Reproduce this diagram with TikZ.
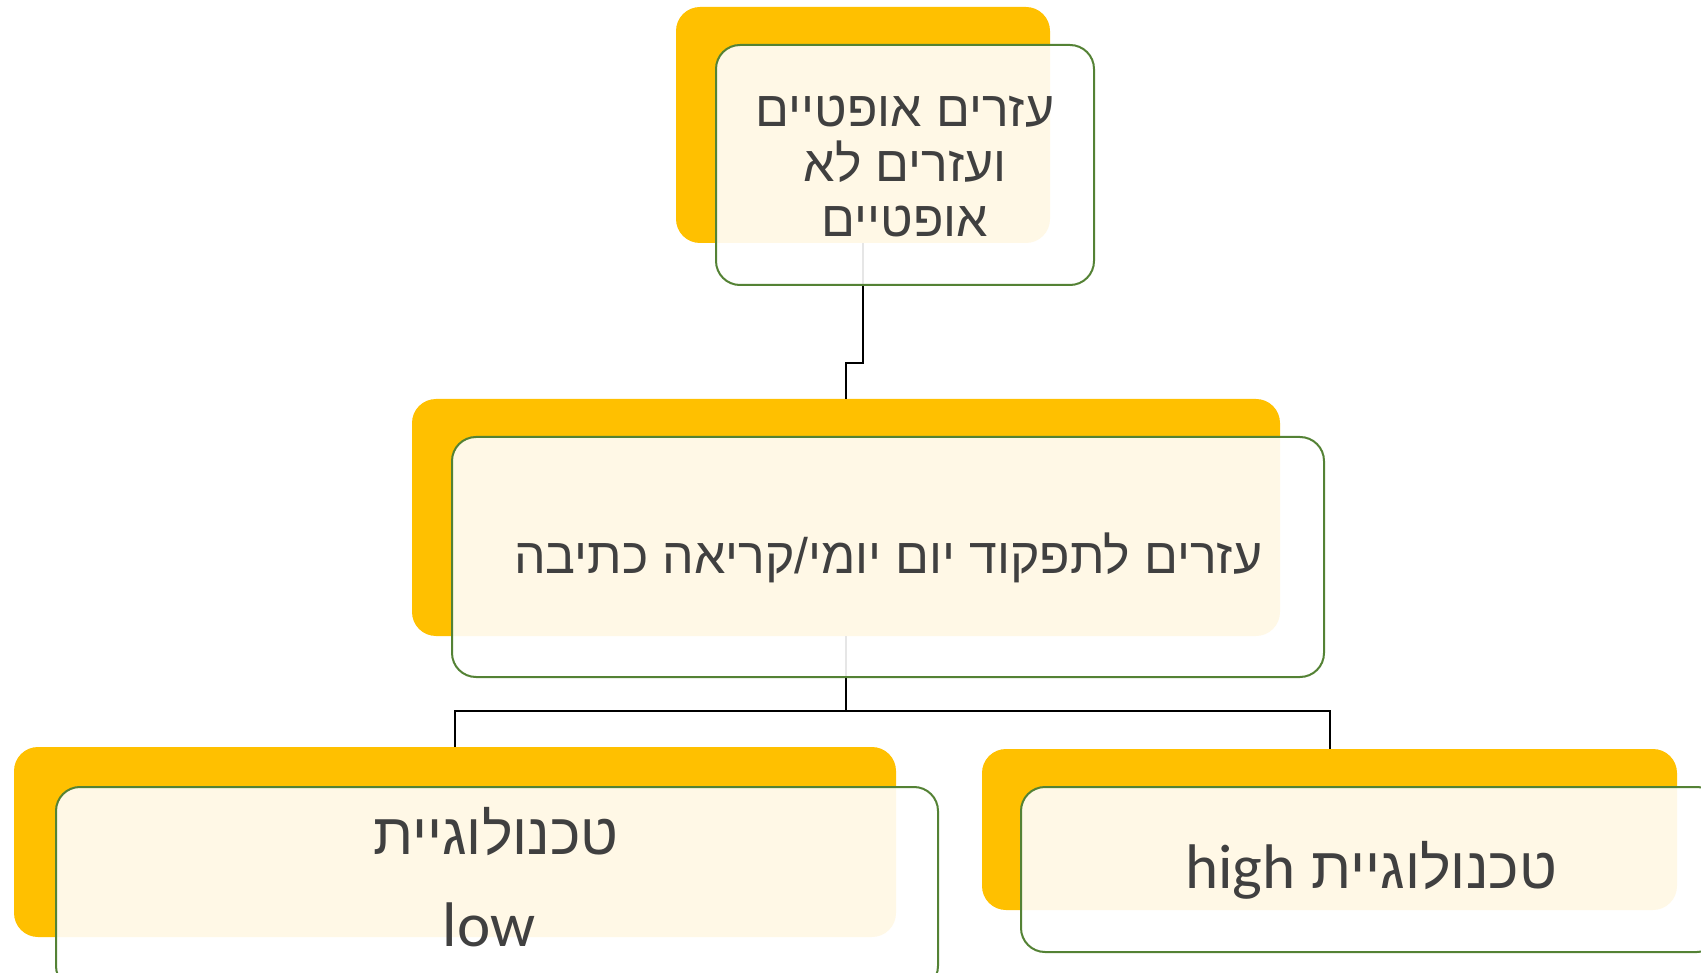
\documentclass[tikz,border=0pt]{standalone}
\usepackage{fontspec}
\setmainfont{Liberation Sans}
\newfontfamily\hebfont[Script=Hebrew]{Liberation Sans}
\newfontfamily\latfont{Carlito}
\TeXXeTstate=1
\definecolor{yel}{HTML}{FFC000}
\definecolor{grn}{HTML}{548235}
\definecolor{txt}{HTML}{404040}
\begin{document}
\begin{tikzpicture}[x=1pt,y=-1pt,
  yelbox/.style={fill=yel, rounded corners=24pt, inner sep=0pt, outer sep=0pt, anchor=north west},
  whitebox/.style={draw=grn, line width=2pt, fill=white, fill opacity=0.9, rounded corners=24pt, inner sep=0pt, outer sep=0pt, anchor=north west},
  conn/.style={draw=black, line width=2pt},
  lbl/.style={text=txt, anchor=base, inner sep=0pt, outer sep=0pt},
  hsmall/.style={lbl, font=\hebfont\fontsize{50}{60}\selectfont},
  hbig/.style={lbl, font=\hebfont\fontsize{58}{68}\selectfont},
  lbig/.style={lbl, font=\latfont\fontsize{63}{72}\selectfont}]
\useasboundingbox (0,0) rectangle (1701,973);
% yellow back boxes
\node[yelbox, minimum width=374pt, minimum height=236pt] (y1) at (676,7) {};
\node[yelbox, minimum width=868pt, minimum height=237pt] (y2) at (412,399) {};
\node[yelbox, minimum width=882pt, minimum height=190pt] (y3) at (14,747) {};
\node[yelbox, minimum width=695pt, minimum height=161pt] (y4) at (982,749) {};
% connectors
\draw[conn] (y1.south) -- ++(0,120) -| (y2.north);
\draw[conn] (y2.south) -- ++(0,75) coordinate (m);
\draw[conn] (y3.north) |- (m) -| (y4.north);
% front boxes
\node[whitebox, minimum width=378pt, minimum height=240pt] (w1) at (716,45) {};
\node[whitebox, minimum width=872pt, minimum height=240pt] (w2) at (452,437) {};
\node[whitebox, minimum width=882pt, minimum height=203pt] (w3) at (56,787) {};
\node[whitebox, minimum width=700pt, minimum height=165pt] (w4) at (1021,787) {};
% texts
\node[hsmall] (t1a) at (905,127) {\beginR עזרים אופטיים\endR};
\node[hsmall] (t1b) at (905,182) {\beginR ועזרים לא\endR};
\node[hsmall] (t1c) at (905,237) {\beginR אופטיים\endR};
\node[hsmall] (t2) at (888,573) {\beginR עזרים לתפקוד יום יומי/קריאה כתיבה\endR};
\node[hbig] (t3a) at (496,854) {\beginR טכנולוגיית\endR};
\node[lbig] (t3b) at (489,946) {low};
\node[hbig] (t4) at (1371,888) {\beginR טכנולוגיית {\latfont\fontsize{63}{72}\selectfont\beginL high\endL}\endR};
\end{tikzpicture}
\end{document}
